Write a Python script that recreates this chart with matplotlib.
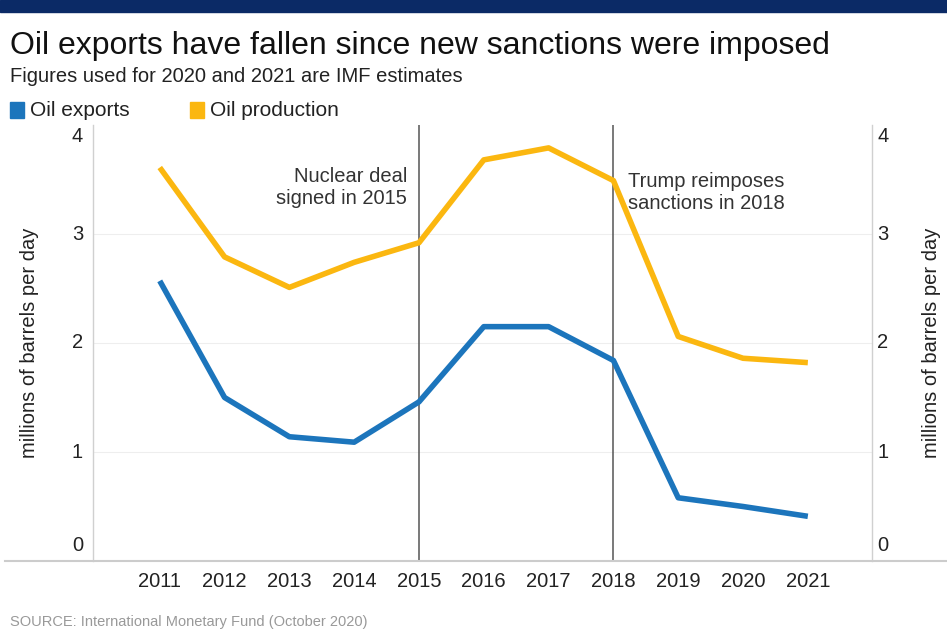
import matplotlib.pyplot as plt
from matplotlib.lines import Line2D
from matplotlib.patches import Rectangle

years = [2011, 2012, 2013, 2014, 2015, 2016, 2017, 2018, 2019, 2020, 2021]
oil_exports = [2.57, 1.50, 1.14, 1.09, 1.46, 2.15, 2.15, 1.84, 0.58, 0.50, 0.41]
oil_production = [3.61, 2.79, 2.51, 2.74, 2.92, 3.68, 3.79, 3.49, 2.06, 1.86, 1.82]
event_years = [2015, 2018]
y_ticks = [0, 1, 2, 3, 4]

BLUE = '#1c75bc'
GOLD = '#fbb710'
plt.rcParams['font.family'] = ['Liberation Sans', 'DejaVu Sans']

fig = plt.figure(figsize=(9.47, 6.32), dpi=100)
W, H = 947, 632

# top navy bar
fig.add_artist(Rectangle((0, 1 - 12 / H), 1, 12 / H, transform=fig.transFigure,
                         color='#0b2a66', zorder=5))

fig.text(10 / W, 1 - 46 / H, 'Oil exports have fallen since new sanctions were imposed',
         fontsize=23, va='center', ha='left', color='#111111')
fig.text(10 / W, 1 - 76 / H, 'Figures used for 2020 and 2021 are IMF estimates',
         fontsize=14.5, va='center', ha='left', color='#222222')

# legend
fig.add_artist(Rectangle((10 / W, 1 - 118 / H), 14 / W, 16 / H, transform=fig.transFigure, color=BLUE))
fig.text(30 / W, 1 - 110 / H, 'Oil exports', fontsize=15, va='center', color='#222222')
fig.add_artist(Rectangle((190 / W, 1 - 118 / H), 14 / W, 16 / H, transform=fig.transFigure, color=GOLD))
fig.text(210 / W, 1 - 110 / H, 'Oil production', fontsize=15, va='center', color='#222222')

ax = fig.add_axes([93 / W, 1 - 561 / H, (872 - 93) / W, (561 - 125) / H])
ax.plot(years, oil_production, color=GOLD, lw=4, solid_capstyle='butt', zorder=3)
ax.plot(years, oil_exports, color=BLUE, lw=4, solid_capstyle='butt', zorder=3)
for yr in event_years:
    ax.axvline(yr, color='#555555', lw=1.1, zorder=2)

ax.set_xlim(2009.97, 2021.99)
ax.set_ylim(0, 4)
ax.set_xticks(years)
ax.set_xticklabels([str(y) for y in years], fontsize=14.5, color='#222222')
ax.tick_params(axis='x', length=0, pad=8)
ax.set_yticks(y_ticks)
ax.set_yticklabels([])
ax.tick_params(axis='y', length=0)
for v in [1, 2, 3]:
    ax.axhline(v, color='#eeeeee', lw=0.8, zorder=1)
for s in ['top', 'bottom']:
    ax.spines[s].set_visible(False)
for s in ['left', 'right']:
    ax.spines[s].set_color('#d0d0d0')
    ax.spines[s].set_linewidth(1)

# y tick labels both sides
for v in y_ticks:
    yy = v
    if v == 0:
        yy = 0.14
    if v == 4:
        yy = 3.89
    ax.text(-0.02, yy, str(v), transform=ax.get_yaxis_transform(), ha='center', va='center',
            fontsize=14.5, color='#222222')
    ax.text(1.014, yy, str(v), transform=ax.get_yaxis_transform(), ha='center', va='center',
            fontsize=14.5, color='#222222')

fig.text(30 / W, 1 - 343 / H, 'millions of barrels per day', rotation=90, ha='center', va='center',
         fontsize=14.5, color='#222222')
fig.text(931 / W, 1 - 343 / H, 'millions of barrels per day', rotation=90, ha='center', va='center',
         fontsize=14.5, color='#222222')

ax.text(2014.82, 3.24, 'Nuclear deal\nsigned in 2015', ha='right', va='bottom', fontsize=14.5,
        color='#333333', linespacing=1.2)
ax.text(2018.22, 3.19, 'Trump reimposes\nsanctions in 2018', ha='left', va='bottom', fontsize=14.5,
        color='#333333', linespacing=1.2)

# baseline across the figure
fig.add_artist(Line2D([5 / W, 1], [1 - 561 / H, 1 - 561 / H], transform=fig.transFigure,
                      color='#cccccc', lw=1.5))

fig.text(10 / W, 1 - 622 / H, 'SOURCE: International Monetary Fund (October 2020)',
         fontsize=10.5, va='center', color='#999999')

fig.savefig('out.png', dpi=100)
